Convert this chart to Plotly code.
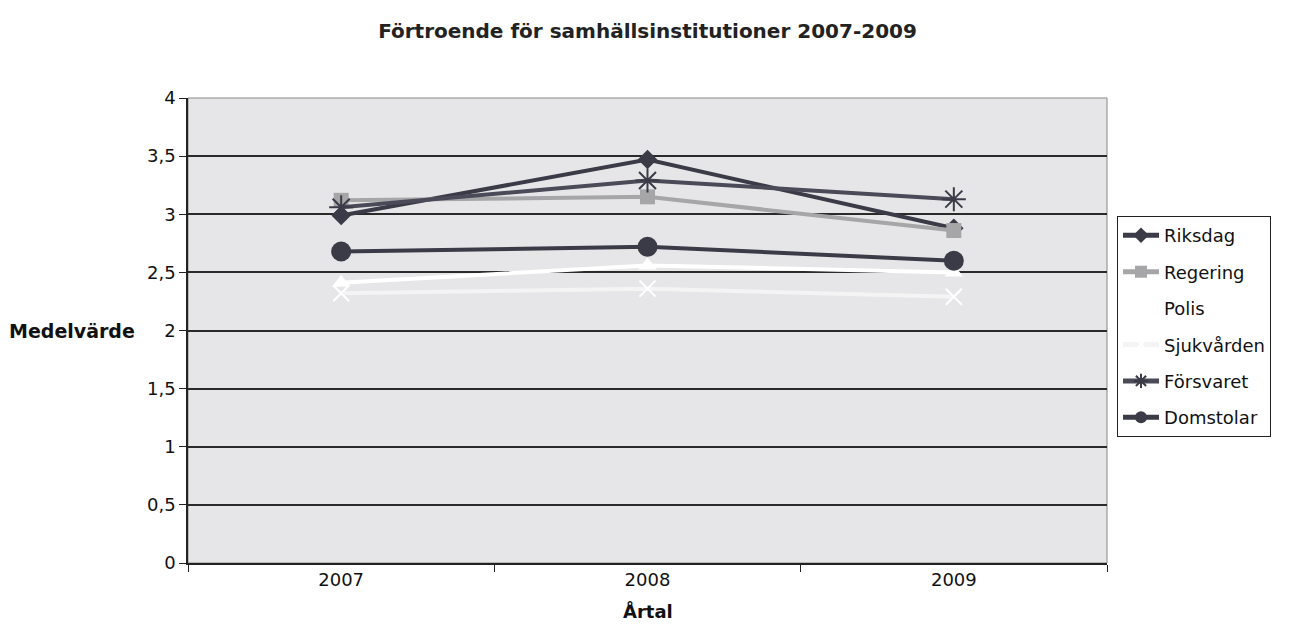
import plotly.graph_objects as go

years = ["2007", "2008", "2009"]
riksdag = [2.99, 3.47, 2.88]
regering = [3.12, 3.15, 2.86]
polis = [2.41, 2.56, 2.50]
sjukvarden = [2.32, 2.36, 2.29]
forsvaret = [3.06, 3.29, 3.13]
domstolar = [2.68, 2.72, 2.60]
yticks = [0, 0.5, 1, 1.5, 2, 2.5, 3, 3.5, 4]
ytick_labels = ["0", "0,5", "1", "1,5", "2", "2,5", "3", "3,5", "4"]

FONT = "DejaVu Sans, Arial, sans-serif"

fig = go.Figure()
series = [
    ("Riksdag", riksdag, "#3b3b48", 4, "diamond", 15, "#3b3b48", None),
    ("Regering", regering, "#a6a6a8", 4, "square", 15, "#a6a6a8", None),
    ("Polis", polis, "#ffffff", 4, "triangle-up", 16, "#ffffff", None),
    ("Sjukvården", sjukvarden, "#f4f4f4", 4, "x-thin-open", 16, "#ffffff", 2),
    ("Försvaret", forsvaret, "#4a4a58", 4, "asterisk-open", 20, "#3b3b48", 2),
    ("Domstolar", domstolar, "#3b3b48", 4, "circle", 20, "#3b3b48", None),
]
for name, vals, lc, lw, sym, ms, mc, mlw in series:
    marker = dict(symbol=sym, size=ms, color=mc)
    if mlw:
        marker["line"] = dict(color=mc, width=mlw)
    else:
        marker["line"] = dict(width=0)
    fig.add_trace(go.Scatter(x=years, y=vals, name=name, mode="lines+markers",
                             legendgroup=name,
                             line=dict(color=lc, width=lw), marker=marker))

fig.update_layout(
    width=1282, height=625,
    margin=dict(l=180, r=183, t=90, b=70),
    paper_bgcolor="white", plot_bgcolor="#e6e6e8",
    separators=", ",
    font=dict(family=FONT, size=18, color="#111"),
    title=dict(text="<b>Förtroende för samhällsinstitutioner 2007-2009</b>",
               x=0.5, xref="paper", xanchor="center", y=0.963, yanchor="middle",
               font=dict(size=20, family=FONT, color="#222")),
    showlegend=True,
    legend=dict(x=1.0109, xanchor="left", y=0.746, yanchor="top",
                bordercolor="#222", borderwidth=1, bgcolor="white",
                font=dict(size=18, family=FONT, color="#111"),
                tracegroupgap=10, itemsizing="constant", itemwidth=36),
)
fig.update_xaxes(type="category", range=[-0.5, 2.5], tickson="boundaries",
                 ticks="outside", ticklen=7,
                 tickcolor="#222", showline=True, linecolor="#222", linewidth=1.5,
                 showgrid=False, tickfont=dict(size=18))
fig.update_yaxes(range=[0, 4], tickvals=yticks, ticktext=ytick_labels, ticks="outside",
                 ticklen=7, tickcolor="#222", showline=True, linecolor="#222", linewidth=1.5,
                 showgrid=True, gridcolor="#2a2a2a", gridwidth=1.5, zeroline=False,
                 tickfont=dict(size=18))
fig.add_shape(type="rect", xref="paper", yref="paper", x0=0, x1=1, y0=0, y1=1,
              line=dict(color="#888", width=1), layer="below")
fig.add_annotation(text="<b>Medelvärde</b>", xref="paper", yref="paper",
                   x=-0.0555, y=0.5, xanchor="right", yanchor="middle",
                   showarrow=False, font=dict(size=19, family=FONT, color="#111"))
fig.add_annotation(text="<b>Årtal</b>", xref="paper", yref="paper",
                   x=0.5, y=-0.103, xanchor="center", yanchor="middle",
                   showarrow=False, font=dict(size=18, family=FONT, color="#111"))
fig.write_html("out.html")
